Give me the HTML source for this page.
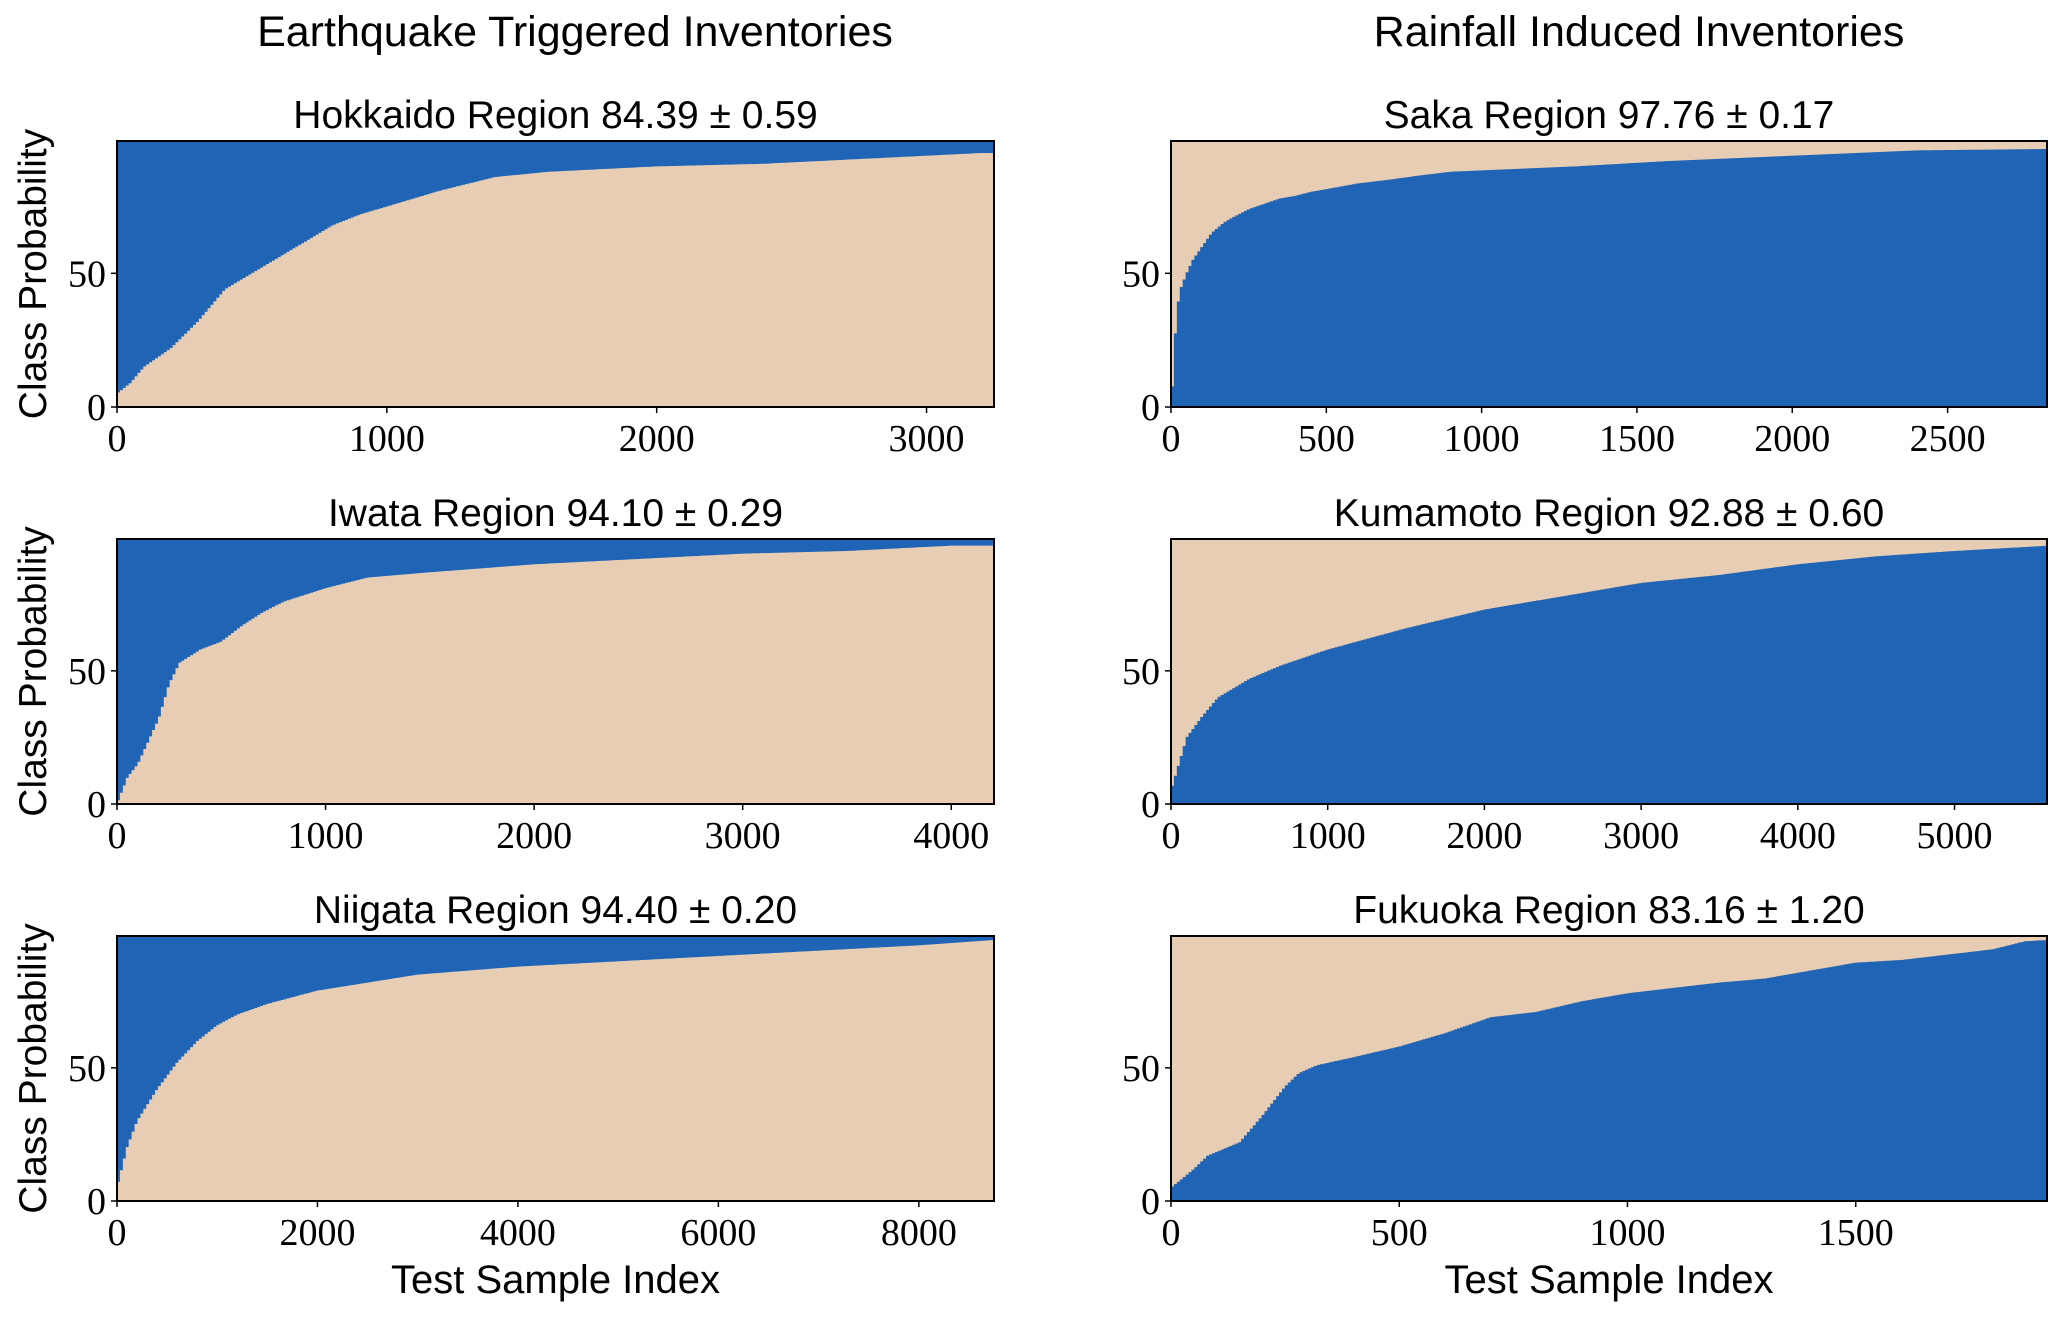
<!DOCTYPE html>
<html><head><meta charset="utf-8"><style>
body{margin:0;background:#fff}
svg{display:block}
</style></head><body>
<svg id="fig" width="2067" height="1321" viewBox="0 0 2067 1321" xmlns="http://www.w3.org/2000/svg">
<text x="575" y="46" text-anchor="middle" font-family="Liberation Sans, sans-serif" font-size="43">Earthquake Triggered Inventories</text>
<text x="1639" y="46" text-anchor="middle" font-family="Liberation Sans, sans-serif" font-size="43">Rainfall Induced Inventories</text>
<g id="plots"></g>
</svg>
<script>
// Data per panel: sample index knots and class-probability values (%)
const hokkaidoX=[0,50,100,200,300,400,500,600,700,800,900,1000,1200,1400,1600,2000,2400,2800,3200,3250];
const hokkaidoY=[5,9,15,22,32,44,50,56,62,68,72,75,81,86,88,90,91,93,95,95];
const iwataX=[0,50,100,200,250,300,400,500,600,700,800,1000,1200,1500,2000,2500,3000,3500,4000,4200];
const iwataY=[0,10,15,32,45,53,58,61,67,72,76,81,85,87,90,92,94,95,97,97];
const niigataX=[0,100,200,400,600,800,1000,1200,1500,2000,2500,3000,4000,5000,6000,7000,8000,8750];
const niigataY=[5,20,30,42,52,60,66,70,74,79,82,85,88,90,92,94,96,98];
const sakaX=[0,5,10,20,30,50,70,100,130,170,200,250,300,350,400,450,500,600,700,800,900,1000,1300,1600,2000,2400,2820];
const sakaY=[3,8,21,37,44,50,55,60,65,69,71,74,76,78,79,80.5,81.5,83.6,85,86.6,88,88.5,90,92,94,96,96.5];
const kumamotoX=[0,50,100,200,300,500,700,1000,1500,2000,2500,3000,3500,4000,4500,5000,5600];
const kumamotoY=[5,15,25,33,40,47,52,58,66,73,78,83,86,90,93,95,97];
const fukuokaX=[0,50,80,150,200,250,280,320,400,500,600,700,800,900,1000,1100,1200,1300,1400,1500,1600,1700,1800,1870,1919];
const fukuokaY=[5,12,17,22,32,43,48,51,54,58,63,69,71,75,78,80,82,83.5,86.5,89.5,90.5,92.5,94.5,97.5,98];
const ticksA=[0,1000,2000,3000];
const ticksB=[0,1000,2000,3000,4000];
const ticksC=[0,2000,4000,6000,8000];
const ticksD=[0,500,1000,1500,2000,2500];
const ticksE=[0,1000,2000,3000,4000,5000];
const ticksF=[0,500,1000,1500];
const yTicks=[0,50];

const BLUE="#2064b6", TAN="#e6cdb3";
const NS="http://www.w3.org/2000/svg";
const root=document.getElementById('plots');
function mk(tag,attrs,parent){const e=document.createElementNS(NS,tag);for(const k in attrs)e.setAttribute(k,attrs[k]);(parent||root).appendChild(e);return e;}

const panels=[
 {name:'hokkaido',title:'Hokkaido Region 84.39 \u00b1 0.59',xs:hokkaidoX,ys:hokkaidoY,xmax:3250,ticks:ticksA,x0:117,x1:994,y0:141,y1:407,lower:TAN,upper:BLUE,ylab:true,xlab:false},
 {name:'iwata',title:'Iwata Region 94.10 \u00b1 0.29',xs:iwataX,ys:iwataY,xmax:4205,ticks:ticksB,x0:117,x1:994,y0:539,y1:804,lower:TAN,upper:BLUE,ylab:true,xlab:false},
 {name:'niigata',title:'Niigata Region 94.40 \u00b1 0.20',xs:niigataX,ys:niigataY,xmax:8750,ticks:ticksC,x0:117,x1:994,y0:936,y1:1201,lower:TAN,upper:BLUE,ylab:true,xlab:true},
 {name:'saka',title:'Saka Region 97.76 \u00b1 0.17',xs:sakaX,ys:sakaY,xmax:2820,ticks:ticksD,x0:1171,x1:2047,y0:141,y1:407,lower:BLUE,upper:TAN,ylab:false,xlab:false},
 {name:'kumamoto',title:'Kumamoto Region 92.88 \u00b1 0.60',xs:kumamotoX,ys:kumamotoY,xmax:5590,ticks:ticksE,x0:1171,x1:2047,y0:539,y1:804,lower:BLUE,upper:TAN,ylab:false,xlab:false},
 {name:'fukuoka',title:'Fukuoka Region 83.16 \u00b1 1.20',xs:fukuokaX,ys:fukuokaY,xmax:1919,ticks:ticksF,x0:1171,x1:2047,y0:936,y1:1201,lower:BLUE,upper:TAN,ylab:false,xlab:true},
];

function interp(xs,ys,x){
 for(let i=1;i<xs.length;i++){if(x<=xs[i]){const t=(x-xs[i-1])/(xs[i]-xs[i-1]);return ys[i-1]+t*(ys[i]-ys[i-1]);}}
 return ys[ys.length-1];
}

panels.forEach(p=>{
 const g=mk('g',{});
 
 
 const sx=v=>p.x0+(v/p.xmax)*(p.x1-p.x0);
 const sy=v=>p.y1-(v/99.5)*(p.y1-p.y0);
 const bg=mk('rect',{x:p.x0,y:p.y0,width:p.x1-p.x0,height:p.y1-p.y0,fill:p.upper},g);
 
 
 const N=300;
 let d='M'+p.x0+','+p.y1;
 for(let i=0;i<N;i++){
   const xa=p.xmax*i/N, xb=p.xmax*(i+1)/N;
   const v=interp(p.xs,p.ys,(xa+xb)/2);
   d+=' L'+sx(xa).toFixed(2)+','+sy(v).toFixed(2)+' L'+sx(xb).toFixed(2)+','+sy(v).toFixed(2);
 }
 d+=' L'+p.x1+','+p.y1+' Z';
 const path=mk('path',{d:d,fill:p.lower},g);
 
 
 const fr=mk('rect',{x:p.x0,y:p.y0,width:p.x1-p.x0,height:p.y1-p.y0,fill:'none',stroke:'#000','stroke-width':2},g);
 
 
 const t=mk('text',{x:(p.x0+p.x1)/2,y:p.y0-13,'text-anchor':'middle','font-family':'Liberation Sans, sans-serif','font-size':39},g);
 t.textContent=p.title;
 
 
 p.ticks.forEach(v=>{
   const x=sx(v);
   mk('line',{x1:x,x2:x,y1:p.y1,y2:p.y1+6,stroke:'#000','stroke-width':1.5},g);
   const l=mk('text',{x:x,y:p.y1+44,'text-anchor':'middle','font-family':'Liberation Serif, serif','font-size':38},g);
   l.textContent=v;
   
   
 });
 yTicks.forEach(v=>{
   const y=sy(v);
   mk('line',{x1:p.x0-6,x2:p.x0,y1:y,y2:y,stroke:'#000','stroke-width':1.5},g);
   const l=mk('text',{x:p.x0-11,y:y+13,'text-anchor':'end','font-family':'Liberation Serif, serif','font-size':38},g);
   l.textContent=v;
   
   
 });
 if(p.ylab){
   const cy=(p.y0+p.y1)/2;
   const l=mk('text',{x:46,y:cy,'text-anchor':'middle','font-family':'Liberation Sans, sans-serif','font-size':39,transform:'rotate(-90 46 '+cy+')'},g);
   l.textContent='Class Probability';
   
   
 }
 if(p.xlab){
   const l=mk('text',{x:(p.x0+p.x1)/2,y:1293,'text-anchor':'middle','font-family':'Liberation Sans, sans-serif','font-size':40},g);
   l.textContent='Test Sample Index';
   
   
 }
});
</script>
</body></html>
